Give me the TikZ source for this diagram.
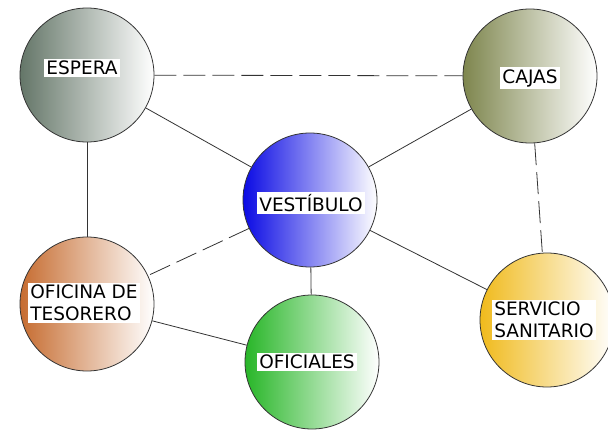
\documentclass[tikz,border=0pt]{standalone}
\usepackage{fontspec}
\setmainfont{DejaVu Sans}
\usepackage{xcolor}
\definecolor{cinza}{RGB}{100,118,104}
\definecolor{azulV}{RGB}{10,10,228}
\definecolor{oliva}{RGB}{126,134,78}
\definecolor{laranja}{RGB}{198,108,48}
\definecolor{verde}{RGB}{40,182,40}
\definecolor{amarelo}{RGB}{240,186,28}
\usetikzlibrary{positioning,calc}

\tikzset{
  sala/.style={circle, draw=black!80, line width=0.8pt, minimum size=134pt,
    inner sep=0pt, left color=#1, right color=white},
  etiqueta/.style={fill=white, inner xsep=2pt, inner ysep=2pt, align=left,
    font=\fontsize{18.5}{22}\selectfont, text=black},
  ligacao/.style={draw=black!80, line width=0.8pt},
  tracejado/.style={ligacao, dash pattern=on 22pt off 7pt}
}

\begin{document}
\begin{tikzpicture}[x=1pt,y=-1pt]
  \useasboundingbox (0,0) rectangle (608,431);
  % salas
  \foreach \nome/\px/\py/\cor in {
    espera/87/75/cinza,
    cajas/530/76/oliva,
    vestibulo/310/200/azulV,
    oficina/87/304/laranja,
    oficiales/312/362/verde,
    servicio/547/320/amarelo%
  }{
    \node[sala=\cor] (\nome) at (\px,\py) {};
  }
  % ligacoes
  \draw[tracejado] (espera) -- (cajas);
  \draw[tracejado] (cajas) -- (servicio);
  \draw[tracejado] (vestibulo) -- (oficina);
  \draw[ligacao] (espera) -- (vestibulo);
  \draw[ligacao] (espera) -- (oficina);
  \draw[ligacao] (cajas) -- (vestibulo);
  \draw[ligacao] (vestibulo) -- (oficiales);
  \draw[ligacao] (vestibulo) -- (servicio);
  \draw[ligacao] (oficina) -- (oficiales);
  % etiquetas
  \node[etiqueta] (tEspera) at (82,68) {ESPERA};
  \node[etiqueta] (tCajas) at (530,78) {CAJAS};
  \node[etiqueta] (tVestibulo) at (311,203) {VESTÍBULO};
  \node[etiqueta] (tOficina) at (84,303) {OFICINA DE\\TESORERO};
  \node[etiqueta] (tOficiales) at (307,362) {OFICIALES};
  \node[etiqueta] (tServicio) at (544,320) {SERVICIO\\SANITARIO};
\end{tikzpicture}
\end{document}
